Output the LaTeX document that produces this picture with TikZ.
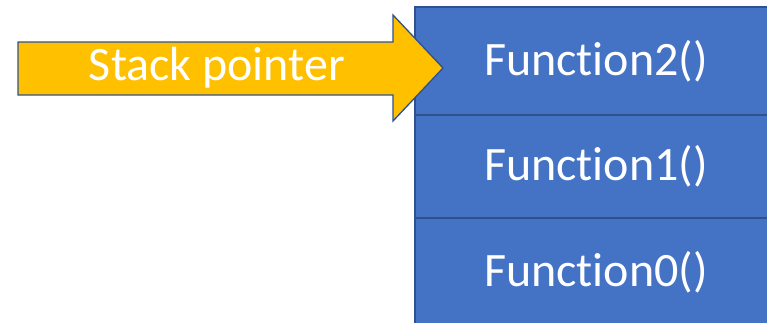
\documentclass[tikz,border=0pt]{standalone}
\usepackage{fontspec}
\setmainfont{Carlito}[Ligatures=NoCommon]
\definecolor{boxblue}{HTML}{4472C4}
\definecolor{edgeblue}{HTML}{2F528F}
\definecolor{arrowgold}{HTML}{FFC000}
\begin{document}
\begin{tikzpicture}[x=1pt,y=-1pt,
  frame/.style={draw=edgeblue,fill=boxblue,line width=1.5pt,minimum width=362pt,inner sep=0pt,outer sep=0pt,text=white,font=\fontsize{48}{52}\selectfont},
  pointer/.style={draw=edgeblue,fill=arrowgold,line width=1.3pt,line join=miter},
  ptext/.style={text=white,font=\fontsize{48}{52}\selectfont,inner sep=0pt}]
\useasboundingbox (0,0) rectangle (767,322);
\clip (0,0) rectangle (767,322);
\node[frame,minimum height=108pt,anchor=north west] (f2) at (415,7) {Function2()};
\node[frame,minimum height=103pt,anchor=north] (f1) at (f2.south) {Function1()};
\node[frame,minimum height=108pt,anchor=north] (f0) at (f1.south) {Function0()};
\coordinate (tip) at (443,68);
\draw[pointer] (18,42) -- (393,42) -- (393,15) -- (tip) -- (393,121) -- (393,95) -- (18,95) -- cycle;
\node[ptext] (sp) at (217,68) {Stack pointer};
\end{tikzpicture}
\end{document}
